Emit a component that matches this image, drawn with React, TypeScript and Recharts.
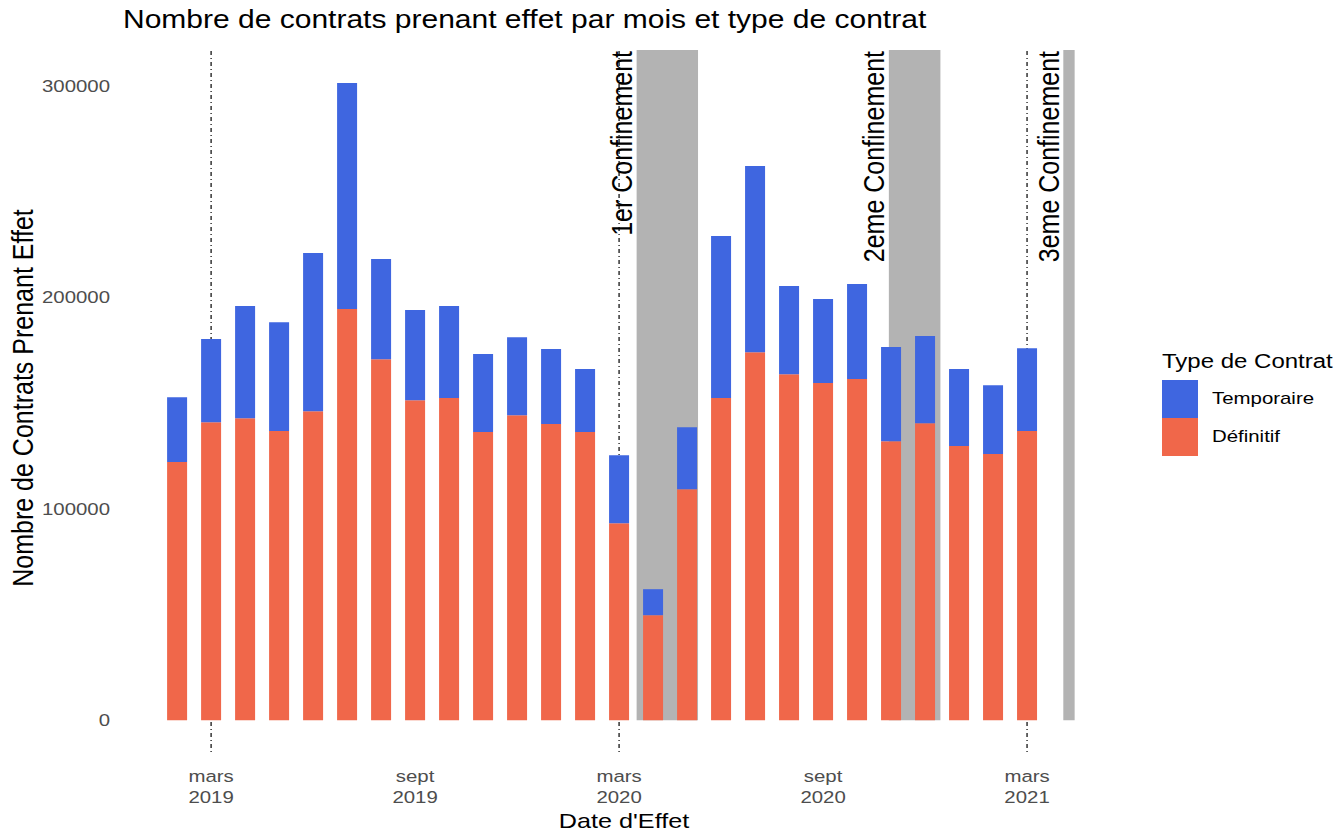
import React from "react";
import {
  ComposedChart,
  Bar,
  XAxis,
  YAxis,
  ReferenceArea,
  ReferenceLine,
} from "recharts";

// mois d'effet (fev. 2019 -> mars 2021)
const months = [
  "2019-02", "2019-03", "2019-04", "2019-05", "2019-06", "2019-07",
  "2019-08", "2019-09", "2019-10", "2019-11", "2019-12", "2020-01",
  "2020-02", "2020-03", "2020-04", "2020-05", "2020-06", "2020-07",
  "2020-08", "2020-09", "2020-10", "2020-11", "2020-12", "2021-01",
  "2021-02", "2021-03",
];

const definitif = [
  122100, 141000, 142900, 136800, 146200, 194500, 170800, 151400, 152400,
  136300, 144300, 140100, 136300, 93200, 49700, 109300, 152400, 174100,
  163700, 159500, 161400, 132000, 140500, 129700, 125900, 136800,
];

const temporaire = [
  30700, 39300, 53000, 51500, 74800, 106900, 47300, 42600, 43500, 36900,
  36900, 35500, 29800, 32200, 12300, 29300, 76600, 88000, 41700, 39700,
  44900, 44500, 41200, 36400, 32600, 39200,
];

const confinements = [
  { label: "1er Confinement", debut: "2020-03-17", fin: "2020-05-11" },
  { label: "2eme Confinement", debut: "2020-10-30", fin: "2020-12-15" },
  { label: "3eme Confinement", debut: "2021-04-03", fin: "2021-04-13" },
];

const marsLines = ["2019-03-01", "2020-03-01", "2021-03-01"];

const xTickDates = ["2019-03-01", "2019-09-01", "2020-03-01", "2020-09-01", "2021-03-01"];
const xTickLabels = [
  ["mars", "2019"],
  ["sept", "2019"],
  ["mars", "2020"],
  ["sept", "2020"],
  ["mars", "2021"],
];
const yTicks = [0, 100000, 200000, 300000];
const Y_MIN = -15000;
const Y_MAX = 317000;

const BLUE = "#3F66E0";
const ORANGE = "#F0674A";
const GREY = "#B3B3B3";
const FONT = "'Liberation Sans', Arial, sans-serif";

// position en mois depuis janv. 2019
const toX = (d: string) => {
  const [y, m, day] = d.split("-").map(Number);
  const dim = new Date(y, m, 0).getDate();
  return (y - 2019) * 12 + (m - 1) + (day - 1) / dim;
};

const data = months.map((m, i) => ({
  x: toX(m + "-01"),
  definitif: definitif[i],
  temporaire: temporaire[i],
}));

const xTicks = xTickDates.map(toX);

const XTick = (props: any) => {
  const { x, y, payload } = props;
  const i = xTicks.indexOf(payload.value);
  const lab = xTickLabels[i] || ["", ""];
  return (
    <g transform={`translate(${x},${y}) scale(1.2,1)`}>
      <text textAnchor="middle" fontSize={17} fill="#4d4d4d" fontFamily={FONT}>
        <tspan x={0} y={30}>{lab[0]}</tspan>
        <tspan x={0} y={51}>{lab[1]}</tspan>
      </text>
    </g>
  );
};

const YTick = (props: any) => {
  const { x, y, payload } = props;
  return (
    <text
      transform={`translate(${x},${y}) scale(1.2,1)`}
      textAnchor="end"
      dominantBaseline="central"
      fontSize={17}
      fill="#4d4d4d"
      fontFamily={FONT}
    >
      {payload.value}
    </text>
  );
};

const confLabel = (text: string) => (props: any) => {
  const vb = props.viewBox || {};
  return (
    <text
      transform={`translate(${vb.x - 15},${vb.y + 1}) scale(1.2,1) rotate(-90)`}
      textAnchor="end"
      dominantBaseline="central"
      fontSize={25}
      fill="#000"
      fontFamily={FONT}
    >
      {text}
    </text>
  );
};

const App = () => {
  return (
    <div
      style={{
        position: "absolute",
        left: 0,
        top: 0,
        width: 1342,
        height: 836,
        background: "#fff",
        fontFamily: FONT,
      }}
    >
      <div
        style={{
          position: "absolute",
          left: 123,
          top: 7,
          fontSize: 25,
          lineHeight: "25px",
          color: "#000",
          whiteSpace: "nowrap",
          transform: "scaleX(1.2)",
          transformOrigin: "left",
        }}
      >
        Nombre de contrats prenant effet par mois et type de contrat
      </div>

      <ComposedChart
        width={1342}
        height={836}
        data={data}
        margin={{ top: 50, right: 215, bottom: 0, left: 0 }}
      >
        <XAxis
          type="number"
          dataKey="x"
          domain={[-0.65, 28.94]}
          allowDataOverflow
          ticks={xTicks}
          tick={<XTick />}
          tickLine={false}
          axisLine={false}
          tickSize={0}
          tickMargin={0}
          height={84}
        />
        <YAxis
          type="number"
          domain={[Y_MIN, Y_MAX]}
          allowDataOverflow
          ticks={yTicks}
          tick={<YTick />}
          tickLine={false}
          axisLine={false}
          tickSize={0}
          tickMargin={11}
          width={121}
        />
        {confinements.map((c) => (
          <ReferenceArea
            key={c.label}
            x1={toX(c.debut)}
            x2={toX(c.fin)}
            y1={0}
            y2={Y_MAX}
            fill={GREY}
            fillOpacity={1}
            stroke="none"
            ifOverflow="hidden"
            zIndex={50}
          />
        ))}
        {marsLines.map((d) => (
          <ReferenceLine
            key={d}
            x={toX(d)}
            stroke="#000"
            strokeWidth={1.2}
            strokeDasharray="1 3 4 3"
            zIndex={60}
          />
        ))}
        <Bar
          dataKey="definitif"
          name="Définitif"
          stackId="a"
          fill={ORANGE}
          barSize={20}
          isAnimationActive={false}
        />
        <Bar
          dataKey="temporaire"
          name="Temporaire"
          stackId="a"
          fill={BLUE}
          barSize={20}
          isAnimationActive={false}
        />
        {confinements.map((c) => (
          <ReferenceArea
            key={"lab-" + c.label}
            x1={toX(c.debut)}
            x2={toX(c.fin)}
            y1={0}
            y2={Y_MAX}
            fill="none"
            fillOpacity={0}
            stroke="none"
            ifOverflow="hidden"
            label={confLabel(c.label)}
          />
        ))}
      </ComposedChart>

      <svg
        width={40}
        height={836}
        style={{ position: "absolute", left: 0, top: 0 }}
      >
        <text
          transform="translate(23,398) scale(1.2,1) rotate(-90)"
          textAnchor="middle"
          dominantBaseline="central"
          fontSize={25}
          fill="#000"
          fontFamily={FONT}
        >
          Nombre de Contrats Prenant Effet
        </text>
      </svg>

      <div
        style={{
          position: "absolute",
          left: 624,
          top: 810,
          fontSize: 21,
          lineHeight: "21px",
          color: "#000",
          whiteSpace: "nowrap",
          transform: "translateX(-50%) scaleX(1.2)",
        }}
      >
        Date d'Effet
      </div>

      <div style={{ position: "absolute", left: 1162, top: 350 }}>
        <div
          style={{
            fontSize: 20,
            lineHeight: "22px",
            height: 30,
            whiteSpace: "nowrap",
            transform: "scaleX(1.2)",
            transformOrigin: "left",
            color: "#000",
          }}
        >
          Type de Contrat
        </div>
        {[
          { name: "Temporaire", color: BLUE },
          { name: "Définitif", color: ORANGE },
        ].map((it) => (
          <div
            key={it.name}
            style={{ display: "flex", alignItems: "center", height: 38 }}
          >
            <div style={{ width: 36, height: 38, background: it.color }} />
            <div
              style={{
                marginLeft: 14,
                fontSize: 17,
                whiteSpace: "nowrap",
                transform: "scaleX(1.2)",
                transformOrigin: "left",
                color: "#000",
              }}
            >
              {it.name}
            </div>
          </div>
        ))}
      </div>
    </div>
  );
};

export default App;
